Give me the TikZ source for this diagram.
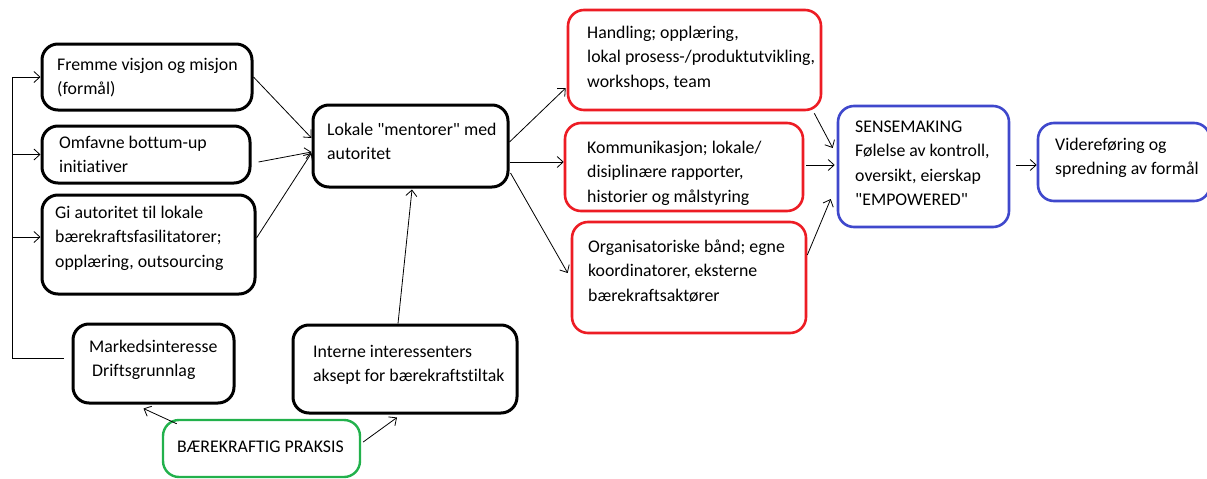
\documentclass[tikz,border=0pt]{standalone}
\usepackage{fontspec}
\setmainfont{Carlito}[Ligatures={TeXOff,NoCommon}]
\usetikzlibrary{arrows.meta,calc}
\definecolor{pred}{RGB}{237,28,36}
\definecolor{pblue}{RGB}{63,72,204}
\definecolor{pgreen}{RGB}{34,177,76}
\begin{document}
\begin{tikzpicture}[x=1pt,y=-1pt,
  box/.style={draw,rounded corners=16pt,line width=3pt,inner sep=0pt},
  blackbox/.style={box,draw=black},
  redbox/.style={box,draw=pred,line width=2.6pt},
  bluebox/.style={box,draw=pblue,line width=2.6pt},
  greenbox/.style={box,draw=pgreen,line width=2.4pt},
  txt/.style={anchor=north west,inner sep=0pt,align=left,font=\fontsize{17.8}{24.5}\selectfont},
  arr/.style={-{Straight Barb[length=6pt,width=11pt]},line width=0.8pt},
  plain/.style={line width=0.8pt}]
\clip (0,0) rectangle (1207,479);
\fill[white] (0,0) rectangle (1207,479);
% boxes
\node[blackbox,minimum width=210pt,minimum height=66pt] (F) at (147,77) {};
\node[blackbox,minimum width=208pt,minimum height=57pt] (O) at (146,154.5) {};
\node[blackbox,minimum width=213pt,minimum height=99pt] (G) at (148.5,244.5) {};
\node[blackbox,minimum width=161pt,minimum height=79pt] (M) at (153.5,363.5) {};
\node[blackbox,minimum width=224pt,minimum height=88pt] (I) at (405,369) {};
\node[greenbox,minimum width=197pt,minimum height=57pt] (B) at (261.5,448.5) {};
\node[blackbox,minimum width=195pt,minimum height=82pt] (L) at (410.5,146) {};
\node[redbox,minimum width=253pt,minimum height=100pt] (H) at (694.5,60) {};
\node[redbox,minimum width=238pt,minimum height=88pt] (K) at (684,167) {};
\node[redbox,minimum width=234pt,minimum height=111pt] (Org) at (689,277.5) {};
\node[bluebox,minimum width=171pt,minimum height=121pt] (S) at (923.5,166.5) {};
\node[bluebox,minimum width=172pt,minimum height=78pt] (V) at (1124,162) {};
% texts
\node[txt] (Ft) at (57,52.85) {\strut Fremme visjon og misjon\\(formål)};
\node[txt] (Ot) at (59,130.85) {\strut Omfavne bottum-up\\initiativer};
\node[txt] (Gt) at (55,200.85) {\strut Gi autoritet til lokale\\bærekraftsfasilitatorer;\\opplæring, outsourcing};
\node[txt] (Mt) at (89,334.85) {\strut Markedsinteresse\\\hspace{3pt}Driftsgrunnlag};
\node[txt] (It) at (313,339.85) {\strut Interne interessenters\\aksept for bærekraftstiltak};
\node[txt] (Bt) at (177,434.85) {\strut BÆREKRAFTIG PRAKSIS};
\node[txt] (Lt) at (327,117.85) {\strut Lokale "mentorer" med\\autoritet};
\node[txt] (Ht) at (587,20.85) {\strut Handling; opplæring,\\lokal prosess-/produktutvikling,\\workshops, team};
\node[txt] (Kt) at (587,135.85) {\strut Kommunikasjon; lokale/\\disiplinære rapporter,\\historier og målstyring};
\node[txt] (Orgt) at (588,234.85) {\strut Organisatoriske bånd; egne\\koordinatorer, eksterne\\bærekraftsaktører};
\node[txt] (St) at (855,114.85) {\strut SENSEMAKING\\Følelse av kontroll,\\oversikt, eierskap\\"EMPOWERED"};
\node[txt] (Vt) at (1055,132.85) {\strut Videreføring og\\spredning av formål};
% connectors
\draw[arr] (F.east) -- ($(L.west)+(0,-8)$);
\draw[arr] ($(O.east)+(7,7.5)$) -- ($(L.west)+(0,6)$);
\draw[arr] ($(G.east)+(0,-6.5)$) -- ($(L.west)+(0,7)$);
\draw[arr] ($(L.east)+(0,-4)$) -- ($(H.west)+(-1,28)$);
\draw[arr] ($(L.east)+(0,16)$) -- ($(K.west)+(0,-5)$);
\draw[arr] ($(L.east)+(1,27)$) -- ($(Org.west)+(-3,-4.5)$);
\draw[arr] ($(I.north)+(-7,0)$) -- ($(L.south)+(1.5,1)$);
\draw[arr] ($(B.north west)+(15,5)$) -- ($(M.south)+(-10,4)$);
\draw[arr] ($(B.east)+(2,-6.5)$) -- ($(I.south)+(-8,3)$);
\draw[arr] ($(H.south east)+(-8,2)$) -- ($(S.west)+(-4,-18.5)$);
\draw[arr] ($(K.east)+(2,-2)$) -- ($(S.west)+(-2,-1.5)$);
\draw[arr] ($(Org.east)+(0,-22.5)$) -- ($(S.west)+(-6,32.5)$);
\draw[arr] ($(S.east)+(6,-1.5)$) -- ($(V.west)+(0,3)$);
% left feedback bus
\coordinate (busb) at (12,358);
\coordinate (gin) at ($(G.west)+(0,-7.5)$);
\draw[plain] ($(M.west)+(-8,-5.5)$) -- (busb);
\draw[arr] (busb) |- (F.west);
\draw[arr] (busb |- O.west) -- (O.west);
\draw[arr] (busb |- gin) -- (gin);
\end{tikzpicture}
\end{document}
